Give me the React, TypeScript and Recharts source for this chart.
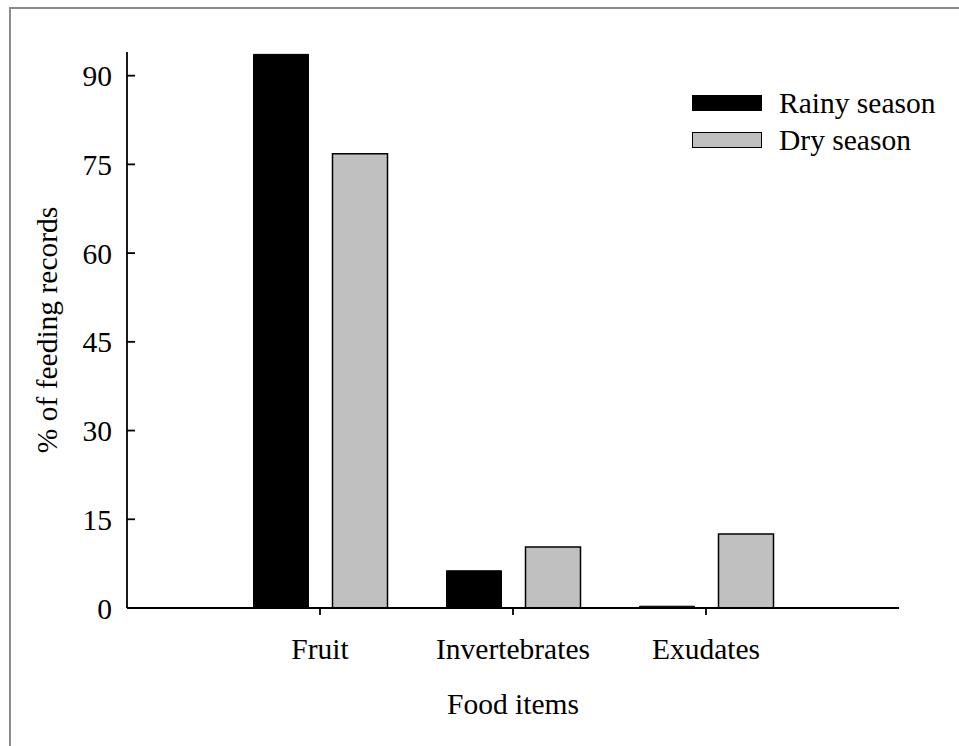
import { Bar, BarChart, Legend, XAxis, YAxis } from "recharts"

const FONT = "Liberation Serif, Tinos, Times New Roman, Times, serif"
const FONT_SIZE = 29.5

const categories = ["Fruit", "Invertebrates", "Exudates"]
const seriesNames = ["Rainy season", "Dry season"]
const rainySeason = [93.6, 6.3, 0.3]
const drySeason = [76.8, 10.3, 12.5]
const yTicks = [0, 15, 30, 45, 60, 75, 90]

const data = categories.map((category, i) => ({
  category,
  rainy: rainySeason[i],
  dry: drySeason[i],
}))

// y ticks point inward (to the right of the axis), labels sit on the left
function YTick({ x, y, payload }: any) {
  return (
    <g>
      <line x1={x + 15} y1={y} x2={x + 23} y2={y} stroke="#000" strokeWidth={1.8} />
      <text
        x={x}
        y={y}
        dy="0.36em"
        textAnchor="end"
        fill="#000"
        style={{ fontFamily: FONT, fontSize: FONT_SIZE }}
      >
        {payload.value}
      </text>
    </g>
  )
}

function LegendBox({ payload }: any) {
  const items = [...(payload || [])].sort(
    (a: any, b: any) => seriesNames.indexOf(a.value) - seriesNames.indexOf(b.value)
  )
  return (
    <div style={{ fontFamily: FONT, fontSize: FONT_SIZE, color: "#000" }}>
      {items.map((entry: any) => (
        <div
          key={entry.value}
          style={{ display: "flex", alignItems: "center", height: 37, lineHeight: "37px" }}
        >
          <span
            style={{
              display: "inline-block",
              width: 70,
              height: 16,
              boxSizing: "border-box",
              border: "1.5px solid #000",
              background: entry.color,
              marginRight: 17,
            }}
          />
          <span style={{ whiteSpace: "nowrap" }}>{entry.value}</span>
        </div>
      ))}
    </div>
  )
}

const textStyle = { fontFamily: FONT, fontSize: FONT_SIZE }

export default function App() {
  return (
    <div style={{ position: "absolute", left: 0, top: 0, width: 959, height: 746, background: "#fff", fontFamily: FONT }}>
      <div
        style={{
          position: "absolute",
          left: 9,
          top: 7,
          width: 950,
          height: 739,
          boxSizing: "border-box",
          borderTop: "2px solid #8a8a8a",
          borderLeft: "2px solid #8a8a8a",
        }}
      />
      <div style={{ position: "absolute", left: 0, top: 0 }}>
        <BarChart
          width={959}
          height={746}
          data={data}
          margin={{ top: 52, right: 60, left: 47, bottom: 78 }}
          barSize={55}
          barGap={24}
          style={{ fontFamily: FONT }}
        >
          <XAxis
            dataKey="category"
            height={60}
            padding={{ left: 96.5, right: 96.5 }}
            stroke="#000"
            strokeWidth={1.8}
            tickSize={7}
            tickMargin={23}
            tick={{ fill: "#000", style: textStyle }}
            label={{
              value: "Food items",
              position: "bottom",
              offset: 25,
              fill: "#000",
              style: textStyle,
            }}
          />
          <YAxis
            width={80}
            domain={[0, 94]}
            ticks={yTicks}
            stroke="#000"
            strokeWidth={1.8}
            tickLine={false}
            tickSize={0}
            tickMargin={15}
            tick={<YTick />}
            label={{
              value: "% of feeding records",
              angle: -90,
              position: "insideLeft",
              offset: 0,
              fill: "#000",
              style: { ...textStyle, textAnchor: "middle" },
            }}
          />
          <Legend
            layout="vertical"
            align="center"
            verticalAlign="middle"
            wrapperStyle={{ left: 692, top: 84.5, width: "auto" }}
            content={<LegendBox />}
          />
          <Bar
            dataKey="rainy"
            name={seriesNames[0]}
            fill="#000000"
            stroke="#000"
            strokeWidth={1}
            isAnimationActive={false}
          />
          <Bar
            dataKey="dry"
            name={seriesNames[1]}
            fill="#c0c0c0"
            stroke="#000"
            strokeWidth={1.5}
            isAnimationActive={false}
          />
        </BarChart>
      </div>
    </div>
  )
}
